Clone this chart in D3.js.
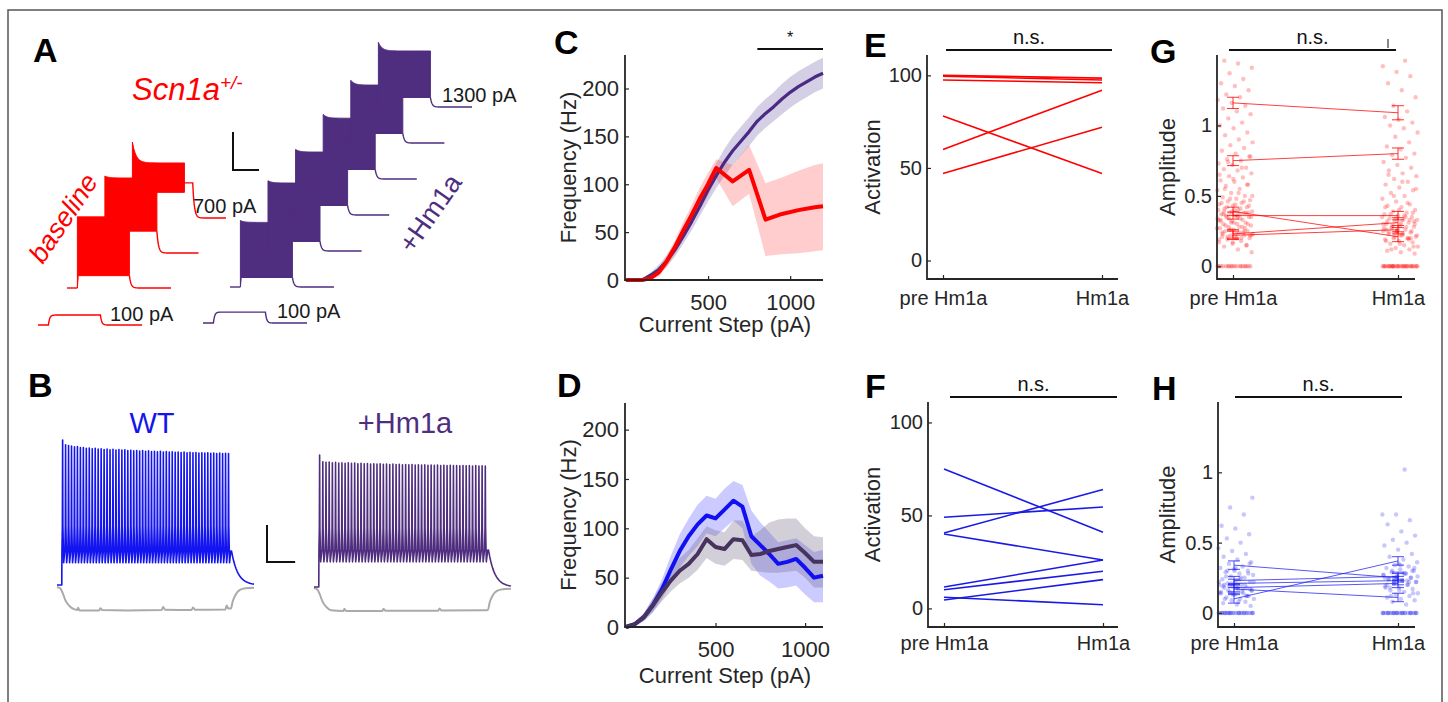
<!DOCTYPE html>
<html>
<head>
<meta charset="utf-8">
<script src="https://cdn.jsdelivr.net/npm/d3@7"></script>
<style>
  body { margin: 0; background: #fff; }
  svg text { font-family: Arial, "Liberation Sans", Helvetica, sans-serif; }
</style>
</head>
<body>
<svg id="fig" width="1448" height="702"></svg>
<script>
// ---------- data ----------

// A: current-step traces (mV), Scn1a+/- baseline (red) and +Hm1a (purple)
const aSubCurrent = 100;
const aRedCurrents = [300, 500, 700];
const aRedPeak = [5, 11, 10];
const aRedPlateau = [5, 9, -12];
const aRedTrough = [-57, -47, -43];
const aRedHold = [null, null, -33];
const aPurpleCurrents = [300, 500, 700, 900, 1100, 1300];
const aPurplePeak = [0, 4, -1, -2, -4, -2];
const aPurplePlateau = [-2, 1.6, -3.7, -6, -9, -11];
const aPurpleTrough = [-60, -60, -60, -60, -60, -60];
const aRedSubDepol = 10.5;
const aPurpleSubDepol = 11.5;

// B: example spike trains (peak mV of each spike) and hyperpolarising traces
const bWtPeaks = [28, 24.8, 24.2, 23.9, 23.3, 23.5, 22.8, 22.9, 22.4, 22.6,
  22.1, 22.3, 21.8, 22.0, 21.6, 21.9, 21.4, 21.7, 21.2, 21.5,
  21.1, 21.3, 20.8, 21.0, 20.7, 20.9, 20.5, 20.8, 20.3, 20.6,
  20.2, 20.4, 20.0, 20.3, 19.9, 20.1, 19.8, 20.0, 19.6, 19.9,
  19.5, 19.8, 19.4, 19.6, 19.3, 19.5, 19.2, 19.4, 19.1, 19.3,
  19.0, 19.2, 18.9, 19.1, 18.8, 19.0, 18.9];
const bHmPeaks = [19.2, 14.6, 14.3, 14.5, 14.0, 14.2, 13.8, 14.0, 13.6, 13.9,
  13.5, 13.7, 13.3, 13.6, 13.2, 13.4, 13.1, 13.3, 13.0, 13.2,
  12.9, 13.1, 12.8, 13.0, 12.7, 12.9, 12.6, 12.8, 12.5, 12.7,
  12.4, 12.6, 12.4, 12.5, 12.3, 12.4, 12.2, 12.4, 12.1, 12.3,
  12.0, 12.2, 12.0, 12.1, 11.9, 12.1, 11.9, 12.0, 11.8, 12.0,
  11.8, 11.9, 11.8];
const bWtTrough = -55, bWtDepol = -47;
const bHmTrough = -53, bHmDepol = -45;
const bWtGray = [[0,-70],[12,-71],[20,-74],[30,-79],[45,-83],[60,-85],[72,-85.5],[75,-84],[80,-85.8],
  [150,-85.8],[154,-84.3],[160,-85.6],[250,-85.8],[372,-85.5],[377,-83.5],[384,-85.4],[478,-85.6],
  [483,-83.8],[490,-85.4],[598,-85.2],[603,-82.5],[609,-84.6],[618,-84.5],[624,-80],[635,-75],
  [650,-72],[670,-70.8],[700,-70.5]];
const bHmGray = [[0,-70],[12,-71],[20,-74],[30,-79],[45,-83],[60,-85],[105,-85.5],[108,-84],[114,-85.5],
  [243,-85.5],[247,-84],[254,-85.4],[442,-85.3],[446,-83.8],[453,-85.2],[600,-85],[618,-84.8],
  [624,-80],[635,-75],[650,-72],[670,-70.8],[700,-70.5]];

// C: frequency vs current, Scn1a+/- (red) and +Hm1a (purple)
const cPurpleX = [0,50,100,150,200,250,300,350,400,450,500,550,600,650,700,750,800,850,900,950,1000,1050,1100,1150,1200];
const cPurpleMean = [0,0,0,5,11,20,32,46,61,77,94,109,123,135,145,155,166,174,181,189,196,202,207,212,216];
const cPurpleSem = [0,0,1,3,5,6,7,8,9,10,12,13,14,15,15,15,15,15,15,16,16,16,16,16,16];
const cRedX = [0,50,100,150,200,250,300,350,400,450,500,550,650,750,850,950,1050,1150,1200];
const cRedMean = [0,0,0,2,8,20,35,52,68,85,100,117,103,115,63,69,73,76,77];
const cRedLow = [0,0,0,0,4,14,28,43,58,73,88,106,77,90,25,27,28,30,31];
const cRedHigh = [0,0,0,4,12,26,42,61,78,97,112,126,120,141,101,107,114,120,122];

// D: frequency vs current, WT (blue) and +Hm1a (dark purple)
const dX = [0,50,100,150,200,250,300,350,400,450,500,550,600,650,700,750,800,850,900,950,1000,1050,1100];
const dBlueMean = [0,3,10,22,38,58,77,92,104,113,110,119,128,122,92,83,74,64,66,69,60,50,52];
const dBlueLow = [0,1,6,15,28,44,60,72,82,95,92,100,108,100,64,52,46,39,40,42,33,25,25];
const dBlueHigh = [0,5,14,29,48,72,94,110,124,133,130,140,148,144,118,106,96,86,88,90,83,76,78];
const dPurpleMean = [0,3,10,22,35,47,57,64,74,89,81,79,89,88,73,74,77,79,81,83,75,66,66];
const dPurpleLow = [0,1,6,15,26,36,44,50,58,70,64,62,69,68,57,56,55,55,56,57,50,40,40];
const dPurpleHigh = [0,5,14,29,44,58,70,78,90,102,98,96,108,108,92,98,106,109,110,110,100,92,91];

// E/F: activation per cell, pre vs post Hm1a
const groups = ['pre Hm1a', 'Hm1a'];
const ePre = [100, 99.5, 97.5, 78, 60, 47];
const ePost = [98.5, 97.5, 96, 47, 92, 72];
const fPre = [75, 49, 40.5, 40, 11.5, 10, 6, 4.5];
const fPost = [41, 54.5, 64, 26, 26, 20, 2, 15.5];

// G/H: spike amplitudes (all events) and per-cell mean +/- sem
const gPreAmp = [0,0,0,0,0,0,0,0,0,0,0,0,0,0,
  0.1,0.12,0.14,0.15,0.16,0.17,0.18,0.19,0.2,0.2,0.21,0.22,0.22,0.23,0.24,0.25,0.25,0.26,0.27,0.28,0.28,0.29,0.3,0.3,
  0.31,0.32,0.33,0.34,0.35,0.35,0.36,0.37,0.38,0.38,0.39,0.4,0.41,0.42,0.43,0.44,0.45,0.46,0.47,0.48,0.49,0.5,
  0.52,0.54,0.55,0.57,0.58,0.6,0.61,0.63,0.64,0.66,0.68,0.69,0.7,0.72,0.73,0.75,0.76,0.78,0.8,
  0.82,0.84,0.86,0.88,0.9,0.93,0.95,0.98,1.0,1.02,1.05,1.08,1.1,
  1.12,1.14,1.16,1.18,1.2,1.22,1.25,1.28,1.3,1.33,1.37,1.41,1.44,1.46,
  0.15,0.17,0.19,0.2,0.21,0.22,0.23,0.24,0.25,0.26,0.27,0.28,0.29,0.3,0.31,0.32,0.33,0.34,0.35,0.36,
  0.37,0.38,0.39,0.4,0.41,0.42,0.43,0.44,0.45,0.46,0.48,0.5,0.52,0.55,0.58,0.62,0.65,0.7,0.74,0.78,
  0.2,0.23,0.27,0.31,0.34,0.37,0.36,0.38,0.4,0.33,0.24,0.26,0.22,0.35,0.39,0,0,0,0];
const gPostAmp = [0,0,0,0,0,0,0,0,0,0,0,0,0,0,0,0,0,0,0,0,0,0,
  0.09,0.1,0.11,0.12,0.13,0.14,0.15,0.16,0.17,0.18,0.19,0.2,0.2,0.21,0.22,0.23,0.24,0.25,0.25,0.26,0.27,0.28,0.29,0.3,
  0.31,0.32,0.33,0.33,0.34,0.35,0.36,0.37,0.38,0.39,0.4,0.42,0.43,0.44,0.46,0.48,0.5,
  0.52,0.54,0.56,0.58,0.6,0.62,0.64,0.66,0.68,0.7,0.72,0.74,0.77,0.79,0.8,
  0.83,0.85,0.88,0.92,0.95,0.98,1.0,1.02,1.04,1.06,1.1,
  1.14,1.2,1.25,1.3,1.35,1.38,1.42,1.46,
  0.12,0.14,0.16,0.18,0.2,0.21,0.22,0.23,0.24,0.25,0.26,0.27,0.28,0.29,0.3,0.31,0.32,0.33,0.34,0.35,
  0.36,0.37,0.38,0.4,0.42,0.45,0.5,0.55,0.6,0.65,0.2,0.25,0.3,0.35,0.28,0.32,0.22,0.26,0.19,0.24,
  0,0,0,0,0,0,0,0];
const gPreMean = [1.16, 0.75, 0.39, 0.36, 0.23, 0.22];
const gPostMean = [1.09, 0.80, 0.21, 0.36, 0.31, 0.26];
const gPreSem = [0.04, 0.035, 0.03, 0.025, 0.03, 0.03];
const gPostSem = [0.05, 0.04, 0.035, 0.03, 0.035, 0.03];

const hPreAmp = [0,0,0,0,0,0,0,0,0,0,0,0,0,0,0,0,0,0,0,0,0,0,
  0.05,0.06,0.07,0.08,0.09,0.1,0.1,0.11,0.12,0.13,0.14,0.14,0.15,0.16,0.17,0.18,0.18,0.19,0.2,0.2,
  0.21,0.22,0.23,0.24,0.25,0.26,0.27,0.28,0.29,0.3,0.31,0.32,0.33,0.35,0.36,0.38,0.4,
  0.42,0.44,0.46,0.5,0.53,0.56,0.6,
  0.62,0.7,0.75,0.82,
  0.08,0.1,0.12,0.13,0.14,0.15,0.16,0.17,0.18,0.19,0.2,0.21,0.22,0.24,0.26,0.28,0.3,0.15,0.17,0.19,
  0.16,0.18,0.2,0.12,0.14,0.22,0.25,0.3,0.35,0.32,0,0,0,0,0,0];
const hPostAmp = [0,0,0,0,0,0,0,0,0,0,0,0,0,0,0,0,0,0,0,0,
  0.06,0.08,0.09,0.1,0.11,0.12,0.13,0.14,0.15,0.16,0.17,0.18,0.19,0.2,
  0.21,0.22,0.23,0.24,0.25,0.26,0.27,0.28,0.29,0.3,0.31,0.32,0.33,0.34,0.36,0.38,0.4,
  0.42,0.45,0.48,0.5,0.52,0.55,0.58,
  0.63,0.66,0.7,0.7,1.02,
  0.12,0.14,0.16,0.18,0.2,0.21,0.22,0.23,0.24,0.25,0.26,0.27,0.28,0.3,0.32,0.34,0.2,0.22,0.24,0.26,
  0.28,0.18,0.3,0.35,0.25,0.23,0,0,0,0,0,0,0,0];
const hPreMean = [0.34, 0.23, 0.21, 0.18, 0.17, 0.10];
const hPostMean = [0.25, 0.26, 0.23, 0.21, 0.11, 0.37];
const hPreSem = [0.03, 0.03, 0.03, 0.03, 0.03, 0.03];
const hPostSem = [0.03, 0.03, 0.03, 0.03, 0.03, 0.03];

// ---------- colours ----------
const RED = '#ff0000';
const PURPLE = '#4f2d7f';
const BLUE = '#1414f0';
const DARKPURPLE = '#46335e';
const INK = '#262626';

const svg = d3.select('#fig');

// figure frame
svg.append('rect')
  .attr('x', 8).attr('y', 10).attr('width', 1434).attr('height', 720)
  .attr('fill', 'none').attr('stroke', '#555').attr('stroke-width', 1.5);

function letter(t, x, y) {
  svg.append('text').attr('x', x).attr('y', y)
    .attr('font-size', 34).attr('font-weight', 'bold').attr('fill', '#000').text(t);
}
letter('A', 33, 62); letter('B', 28, 397);
letter('C', 554, 54); letter('D', 557, 397);
letter('E', 864, 57); letter('F', 865, 398);
letter('G', 1150, 63); letter('H', 1152, 400);

// ---------- panel A ----------
const aT = d3.scaleLinear().domain([0, 1000]).range([0, 104]);
const aV = d3.scaleLinear().domain([-70, 10]).range([0, -76]);
const A_ON = 100, A_OFF = 600;
const toA = ([t, v]) => [aT(t), aV(v)];

function subTrace(ox, oy, depol, color) {
  const pts = [[0, -70], [A_ON, -70]];
  d3.range(A_ON, A_OFF + 1, 5).forEach(t => pts.push([t, -70 + depol * (1 - Math.exp(-(t - A_ON) / 12))]));
  d3.range(A_OFF, 1001, 5).forEach(t => pts.push([t, -70 + depol * Math.exp(-(t - A_OFF) / 12)]));
  svg.append('path').attr('transform', `translate(${ox},${oy})`)
    .attr('d', d3.line()(pts.map(toA)))
    .attr('fill', 'none').attr('stroke', color).attr('stroke-width', 1.4);
}

function stepTrace(ox, oy, peak, plateau, trough, hold, color) {
  const g = svg.append('g').attr('transform', `translate(${ox},${oy})`);
  const top = d3.range(A_ON, A_OFF + 1, 5).map(t => [t, plateau + (peak - plateau) * Math.exp(-(t - A_ON) / 35)]);
  const block = [[A_ON, -70], ...top, [A_OFF, trough], [A_ON + 8, trough]];
  g.append('path').attr('d', d3.line()(block.map(toA)) + 'Z')
    .attr('fill', color).attr('stroke', color).attr('stroke-width', 1);
  const post = [];
  let t0 = A_OFF, v0 = trough;
  if (hold != null) { post.push([A_OFF, hold], [A_OFF + 80, hold]); t0 = A_OFF + 80; v0 = hold; }
  d3.range(t0, 1001, 5).forEach(t => post.push([t, -70 + (v0 + 70) * Math.exp(-(t - t0) / 15)]));
  g.append('path').attr('d', d3.line()([[0, -70], [A_ON, -70]].map(toA)))
    .attr('fill', 'none').attr('stroke', color).attr('stroke-width', 1.4);
  g.append('path').attr('d', d3.line()(post.map(toA)))
    .attr('fill', 'none').attr('stroke', color).attr('stroke-width', 1.4);
}

function traceLabel(x, y, txt) {
  svg.append('text').attr('x', x).attr('y', y).attr('font-size', 20).attr('fill', '#1a1a1a').text(txt);
}

// red (baseline)
subTrace(38, 325, aRedSubDepol, RED);
traceLabel(38 + 72, 325 - 4, `${aSubCurrent} pA`);
aRedCurrents.forEach((c, i) => {
  stepTrace(67 + i * 27.5, 288 - i * 35, aRedPeak[i], aRedPlateau[i], aRedTrough[i], aRedHold[i], RED);
});
traceLabel(67 + 2 * 27.5 + 71, 288 - 2 * 35 - 5, `${aRedCurrents[2]} pA`);

// purple (+Hm1a)
subTrace(203, 323, aPurpleSubDepol, PURPLE);
traceLabel(203 + 74, 323 - 5, `${aSubCurrent} pA`);
aPurpleCurrents.forEach((c, i) => {
  stepTrace(230 + i * 27.6, 287 - i * 36, aPurplePeak[i], aPurplePlateau[i], aPurpleTrough[i], null, PURPLE);
});
traceLabel(230 + 5 * 27.6 + 74, 287 - 5 * 36 - 5, `${aPurpleCurrents[5]} pA`);

// scale bar A (40 mV, 250 ms)
svg.append('path')
  .attr('d', `M233,${170 + aV(-30)}V170H${233 + aT(250)}`)
  .attr('fill', 'none').attr('stroke', '#111').attr('stroke-width', 2);

const scn = svg.append('text').attr('x', 132).attr('y', 100).attr('fill', RED)
  .attr('font-size', 31).attr('font-style', 'italic');
scn.append('tspan').text('Scn1a');
scn.append('tspan').attr('dy', -11).attr('font-size', 19).text('+/-');

svg.append('text').attr('transform', 'translate(63,218) rotate(-56)')
  .attr('text-anchor', 'middle').attr('dy', '0.35em')
  .attr('font-size', 27).attr('font-style', 'italic').attr('fill', RED).text('baseline');
svg.append('text').attr('transform', 'translate(430,213) rotate(-55)')
  .attr('text-anchor', 'middle').attr('dy', '0.35em')
  .attr('font-size', 27).attr('fill', PURPLE).text('+Hm1a');

// ---------- panel B ----------
const bT = d3.scaleLinear().domain([0, 700]).range([0, 197]);
const bV = d3.scaleLinear().domain([-70, 30]).range([0, -148]);
const B_ON = 20, B_OFF = 620;
const toB = ([t, v]) => [bT(t), bV(v)];

function grayTrace(ox, oy, pts) {
  svg.append('path').attr('transform', `translate(${ox},${oy})`)
    .attr('d', d3.line().curve(d3.curveMonotoneX)(pts.map(toB)))
    .attr('fill', 'none').attr('stroke', '#aaaaaa').attr('stroke-width', 2);
}

function spikeTrain(ox, oy, peaks, trough, depol, color) {
  const isi = (B_OFF - B_ON) / peaks.length;
  const pts = [[0, -70], [B_ON - 3, -70]];
  peaks.forEach((p, k) => {
    const t = B_ON + k * isi;
    // broad base, narrow tip
    pts.push([t - 2.5, depol], [t - 1, -30], [t, p], [t + 1, -30], [t + 3.6, trough], [t + isi - 2.6, depol]);
  });
  d3.range(B_OFF, 701, 4).forEach(t => pts.push([t, -70 + (depol + 70) * Math.exp(-(t - B_OFF) / 22)]));
  svg.append('path').attr('transform', `translate(${ox},${oy})`)
    .attr('d', d3.line()(pts.map(toB)))
    .attr('fill', 'none').attr('stroke', color).attr('stroke-width', 1.6)
    .attr('stroke-linejoin', 'round');
}

grayTrace(57, 587, bWtGray);
spikeTrain(57, 585, bWtPeaks, bWtTrough, bWtDepol, BLUE);
grayTrace(314, 588, bHmGray);
spikeTrain(314, 587, bHmPeaks, bHmTrough, bHmDepol, PURPLE);

// scale bar B (25 mV, 100 ms)
svg.append('path')
  .attr('d', `M267,${562 + bV(-45)}V562H${267 + bT(100)}`)
  .attr('fill', 'none').attr('stroke', '#111').attr('stroke-width', 2);

svg.append('text').attr('x', 152).attr('y', 433).attr('text-anchor', 'middle')
  .attr('font-size', 29).attr('fill', BLUE).text('WT');
svg.append('text').attr('x', 405).attr('y', 433).attr('text-anchor', 'middle')
  .attr('font-size', 29).attr('fill', PURPLE).text('+Hm1a');

// ---------- shared axis helper ----------
function drawAxes(g, x, y, box, o) {
  const xa = d3.axisBottom(x).tickSizeInner(-4).tickSizeOuter(0).tickPadding(o.xPad);
  if (o.xTicks) xa.tickValues(o.xTicks);
  if (o.xFormat) xa.tickFormat(o.xFormat);
  const ya = d3.axisLeft(y).tickValues(o.yTicks).tickSizeInner(-4).tickSizeOuter(0).tickPadding(o.yPad);
  if (o.yFormat) ya.tickFormat(o.yFormat);
  [g.append('g').attr('transform', `translate(0,${box.bottom})`).call(xa),
   g.append('g').attr('transform', `translate(${box.left},0)`).call(ya)].forEach(a => {
    a.select('.domain').remove();
    a.selectAll('.tick line').attr('stroke', INK).attr('stroke-width', 1.2);
    a.selectAll('.tick text').attr('fill', INK).attr('font-size', o.fontSize)
      .attr('font-family', 'Arial, "Liberation Sans", sans-serif');
  });
  g.append('path')
    .attr('d', `M${box.left},${box.top}V${box.bottom}H${box.right}`)
    .attr('fill', 'none').attr('stroke', INK).attr('stroke-width', 1.8);
  g.append('text')
    .attr('transform', `translate(${o.yLabelX},${(box.top + box.bottom) / 2 + o.yLabelDy}) rotate(-90)`)
    .attr('text-anchor', 'middle').attr('font-size', 22).attr('fill', INK).text(o.yLabel);
  if (o.xLabel) {
    g.append('text').attr('x', o.xLabelX).attr('y', o.xLabelY).attr('text-anchor', 'middle')
      .attr('font-size', 22).attr('fill', INK).text(o.xLabel);
  }
}

function sigBar(x1, x2, y, label, size) {
  svg.append('line').attr('x1', x1).attr('x2', x2).attr('y1', y).attr('y2', y)
    .attr('stroke', '#111').attr('stroke-width', 2);
  svg.append('text').attr('x', (x1 + x2) / 2).attr('y', y - 6)
    .attr('text-anchor', 'middle').attr('font-size', size).attr('fill', '#111').text(label);
}

// ---------- panels C / D ----------
function freqPanel(box, xDomain, yDomain, series, xLabelY) {
  const x = d3.scaleLinear().domain(xDomain).range([box.left + 1, box.right]);
  const y = d3.scaleLinear().domain(yDomain).range([box.bottom, box.top]);
  const g = svg.append('g');
  series.forEach(s => {
    const area = d3.area().x((d, i) => x(s.x[i])).y0((d, i) => y(s.low[i])).y1((d, i) => y(s.high[i]));
    g.append('path').datum(s.x).attr('d', area).attr('fill', s.band).attr('fill-opacity', s.bandOpacity);
  });
  series.forEach(s => {
    const line = d3.line().x((d, i) => x(s.x[i])).y(d => y(d));
    g.append('path').datum(s.mean).attr('d', line)
      .attr('fill', 'none').attr('stroke', s.color).attr('stroke-width', s.width)
      .attr('stroke-linejoin', 'round');
  });
  drawAxes(g, x, y, box, {
    xTicks: [500, 1000], xFormat: d3.format('d'), yTicks: [0, 50, 100, 150, 200],
    xPad: 14, yPad: 6, fontSize: 22,
    yLabel: 'Frequency (Hz)', yLabelX: 576, yLabelDy: 0,
    xLabel: 'Current Step (pA)', xLabelX: 725, xLabelY: xLabelY
  });
  return x;
}

const cx = freqPanel({ left: 625, right: 823, top: 55, bottom: 280 }, [0, 1200], [0, 235], [
  { x: cPurpleX, mean: cPurpleMean,
    low: cPurpleMean.map((m, i) => m - cPurpleSem[i]), high: cPurpleMean.map((m, i) => m + cPurpleSem[i]),
    color: '#4b2a85', band: '#7a6aae', bandOpacity: 0.32, width: 3.2 },
  { x: cRedX, mean: cRedMean, low: cRedLow, high: cRedHigh,
    color: RED, band: '#ff3030', bandOpacity: 0.24, width: 4 }
], 332);
sigBar(cx(800), cx(1200), 49, '*', 16);

freqPanel({ left: 625, right: 823, top: 403, bottom: 627 }, [0, 1100], [0, 227], [
  { x: dX, mean: dBlueMean, low: dBlueLow, high: dBlueHigh,
    color: '#1010f0', band: '#3030ff', bandOpacity: 0.25, width: 4 },
  { x: dX, mean: dPurpleMean, low: dPurpleLow, high: dPurpleHigh,
    color: DARKPURPLE, band: '#6e6082', bandOpacity: 0.3, width: 4 }
], 683);

// ---------- panels E / F ----------
function pairPanel(box, pre, post, color, xPad) {
  const x = d3.scalePoint().domain(groups).range([box.preX, box.postX]);
  const y = d3.scaleLinear().domain([-10, 111]).range([box.bottom, box.top]);
  const g = svg.append('g');
  g.selectAll('line.pair').data(pre).join('line').attr('class', 'pair')
    .attr('x1', x(groups[0])).attr('x2', x(groups[1]))
    .attr('y1', d => y(d)).attr('y2', (d, i) => y(post[i]))
    .attr('stroke', color).attr('stroke-width', 1.6);
  drawAxes(g, x, y, box, {
    yTicks: [0, 50, 100], xPad: xPad, yPad: 5, fontSize: 20,
    yLabel: 'Activation', yLabelX: 880, yLabelDy: 0
  });
}
pairPanel({ left: 927, right: 1118, top: 55, bottom: 279, preX: 943, postX: 1102 }, ePre, ePost, RED, 12);
pairPanel({ left: 928, right: 1118, top: 402, bottom: 627, preX: 944, postX: 1103 }, fPre, fPost, '#1a1ae8', 9);
sigBar(946, 1112, 50, 'n.s.', 20);
sigBar(950, 1117, 397, 'n.s.', 20);

// ---------- panels G / H ----------
const jitter = (i, half) => (((i * 0.6180339887 + 0.31) % 1) - 0.5) * 2 * half;

function ampPanel(box, yDomain, preAmp, postAmp, preMean, postMean, preSem, postSem, color, xPad) {
  const x = d3.scalePoint().domain(groups).range([box.preX, box.postX]);
  const y = d3.scaleLinear().domain(yDomain).range([box.bottom, box.top]);
  const g = svg.append('g');
  [preAmp, postAmp].forEach((arr, gi) => {
    g.selectAll(null).data(arr).join('circle')
      .attr('cx', (d, i) => x(groups[gi]) + 2 + jitter(i, 18))
      .attr('cy', d => y(d)).attr('r', 2.2)
      .attr('fill', color).attr('fill-opacity', 0.25);
  });
  g.selectAll(null).data(preMean).join('line')
    .attr('x1', x(groups[0])).attr('x2', x(groups[1]))
    .attr('y1', d => y(d)).attr('y2', (d, i) => y(postMean[i]))
    .attr('stroke', color).attr('stroke-width', 1).attr('stroke-opacity', 0.75);
  [[preMean, preSem, 0], [postMean, postSem, 1]].forEach(([m, s, gi]) => {
    const cxv = x(groups[gi]);
    const eb = g.selectAll(null).data(m).join('g').attr('stroke', color).attr('stroke-opacity', 0.8).attr('stroke-width', 1);
    eb.append('line').attr('x1', cxv).attr('x2', cxv).attr('y1', (d, i) => y(d - s[i])).attr('y2', (d, i) => y(d + s[i]));
    eb.append('line').attr('x1', cxv - 6).attr('x2', cxv + 6).attr('y1', (d, i) => y(d - s[i])).attr('y2', (d, i) => y(d - s[i]));
    eb.append('line').attr('x1', cxv - 6).attr('x2', cxv + 6).attr('y1', (d, i) => y(d + s[i])).attr('y2', (d, i) => y(d + s[i]));
  });
  drawAxes(g, x, y, box, {
    yTicks: [0, 0.5, 1], yFormat: d => d, xPad: xPad, yPad: 5, fontSize: 20,
    yLabel: 'Amplitude', yLabelX: 1175, yLabelDy: 0
  });
}
ampPanel({ left: 1217, right: 1415, top: 55, bottom: 279, preX: 1233, postX: 1398 }, [-0.09, 1.5],
  gPreAmp, gPostAmp, gPreMean, gPostMean, gPreSem, gPostSem, RED, 12);
ampPanel({ left: 1218, right: 1415, top: 402, bottom: 627, preX: 1234, postX: 1398 }, [-0.1, 1.5],
  hPreAmp, hPostAmp, hPreMean, hPostMean, hPreSem, hPostSem, '#2020f0', 9);
sigBar(1229, 1396, 50, 'n.s.', 20);
svg.append('line').attr('x1', 1388).attr('x2', 1388).attr('y1', 39).attr('y2', 48)
  .attr('stroke', '#111').attr('stroke-width', 1);
sigBar(1235, 1402, 397, 'n.s.', 20);
</script>
</body>
</html>
